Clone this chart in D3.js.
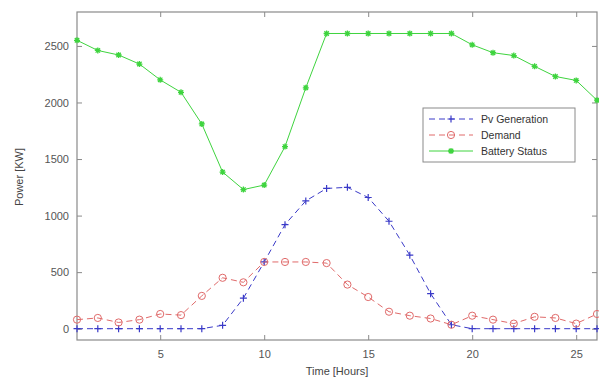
<!DOCTYPE html>
<html>
<head>
<meta charset="utf-8">
<script src="https://cdn.jsdelivr.net/npm/d3@7"></script>
<style>
  html, body { margin: 0; padding: 0; background: #fff; }
  svg { display: block; font-family: "Liberation Sans", Arial, sans-serif; }
</style>
</head>
<body>
<svg id="chart" width="599" height="380"></svg>
<script>
// hours 1..26
const hours = d3.range(1, 27);
const pvGeneration = [0, 0, 0, 0, 0, 0, 0, 30, 270, 590, 920, 1130, 1240, 1250, 1160, 950, 650, 310, 35, 0, 0, 0, 0, 0, 0, 0];
const demand = [80, 95, 55, 80, 130, 120, 290, 450, 410, 590, 590, 590, 580, 390, 280, 150, 115, 90, 35, 115, 80, 45, 105, 95, 45, 130];
const batteryStatus = [2550, 2460, 2420, 2340, 2200, 2090, 1810, 1385, 1230, 1270, 1610, 2130, 2610, 2610, 2610, 2610, 2610, 2610, 2610, 2510, 2440, 2415, 2320, 2230, 2195, 2020];
const xTicks = [5, 10, 15, 20, 25];
const yTicks = [0, 500, 1000, 1500, 2000, 2500];

const series = [
  { name: 'Pv Generation', values: pvGeneration, color: '#3a3ac8', dash: '6,4', marker: 'plus' },
  { name: 'Demand', values: demand, color: '#e06a6a', dash: '6,4', marker: 'circle' },
  { name: 'Battery Status', values: batteryStatus, color: '#3fd43f', dash: null, marker: 'star' },
];

const margin = { top: 12, right: 2, bottom: 40, left: 77 };
const width = 599 - margin.left - margin.right;
const height = 380 - margin.top - margin.bottom;

const svg = d3.select('#chart');
const g = svg.append('g').attr('transform', `translate(${margin.left},${margin.top})`);

const x = d3.scaleLinear().domain([1, 26]).range([0, width]);
const y = d3.scaleLinear().domain([-100, 2800]).range([height, 0]);

const axisColor = '#8a8a8a';
const labelColor = '#555';

// box
g.append('rect')
  .attr('width', width).attr('height', height)
  .attr('fill', 'none').attr('stroke', axisColor).attr('stroke-width', 1.2);

// axes with inward ticks (left/bottom labeled, top/right ticks only)
const styleAxis = (sel) => {
  sel.select('.domain').remove();
  sel.selectAll('line').attr('stroke', axisColor);
  sel.selectAll('text').attr('fill', labelColor).attr('font-size', '11px');
};

g.append('g').attr('transform', `translate(0,${height})`)
  .call(d3.axisBottom(x).tickValues(xTicks).tickFormat(d3.format('d')).tickSizeInner(-5).tickPadding(10))
  .call(styleAxis);
g.append('g')
  .call(d3.axisTop(x).tickValues(xTicks).tickSizeInner(-5).tickFormat(''))
  .call(styleAxis);
g.append('g')
  .call(d3.axisLeft(y).tickValues(yTicks).tickFormat(d3.format('d')).tickSizeInner(-5).tickPadding(8))
  .call(styleAxis);
g.append('g').attr('transform', `translate(${width},0)`)
  .call(d3.axisRight(y).tickValues(yTicks).tickSizeInner(-5).tickFormat(''))
  .call(styleAxis);

// axis titles
svg.append('text')
  .attr('x', margin.left + width / 2).attr('y', 375)
  .attr('text-anchor', 'middle').attr('font-size', '11px').attr('fill', '#444')
  .text('Time [Hours]');
svg.append('text')
  .attr('transform', 'translate(23,177) rotate(-90)')
  .attr('text-anchor', 'middle').attr('font-size', '11px').attr('fill', '#444')
  .text('Power [KW]');

function drawMarker(sel, type, color) {
  if (type === 'plus') {
    sel.append('path').attr('d', 'M-3.5,0H3.5M0,-3.5V3.5')
      .attr('stroke', color).attr('stroke-width', 1.2).attr('fill', 'none');
  } else if (type === 'circle') {
    sel.append('circle').attr('r', 3.6)
      .attr('stroke', color).attr('stroke-width', 1).attr('fill', 'none');
  } else {
    sel.append('path').attr('d', 'M-3,0H3M0,-3V3M-2.2,-2.2L2.2,2.2M-2.2,2.2L2.2,-2.2')
      .attr('stroke', color).attr('stroke-width', 1.3).attr('fill', 'none');
    sel.append('circle').attr('r', 1.8).attr('fill', color).attr('opacity', 0.7);
  }
}

const line = d3.line().x((d) => x(d[0])).y((d) => y(d[1]));

series.forEach((s) => {
  const pts = hours.map((h, i) => [h, s.values[i]]);
  g.append('path')
    .datum(pts)
    .attr('d', line)
    .attr('fill', 'none')
    .attr('stroke', s.color)
    .attr('stroke-width', 1)
    .attr('stroke-dasharray', s.dash);
  g.append('g').selectAll('g')
    .data(pts).join('g')
    .attr('transform', (d) => `translate(${x(d[0])},${y(d[1])})`)
    .each(function () { drawMarker(d3.select(this), s.marker, s.color); });
});

// legend
const legend = g.append('g').attr('transform', `translate(${423 - margin.left},${108 - margin.top})`);
legend.append('rect')
  .attr('width', 152).attr('height', 54)
  .attr('fill', '#fff').attr('stroke', axisColor).attr('stroke-width', 1);
series.forEach((s, i) => {
  const row = legend.append('g').attr('transform', `translate(0,${11 + i * 16})`);
  row.append('line')
    .attr('x1', 6).attr('x2', 50)
    .attr('stroke', s.color).attr('stroke-width', 1)
    .attr('stroke-dasharray', s.dash);
  const m = row.append('g').attr('transform', 'translate(28,0)');
  drawMarker(m, s.marker, s.color);
  row.append('text')
    .attr('x', 58).attr('y', 0).attr('dy', '0.35em')
    .attr('font-size', '10.5px').attr('fill', '#333')
    .text(s.name);
});
</script>
</body>
</html>
